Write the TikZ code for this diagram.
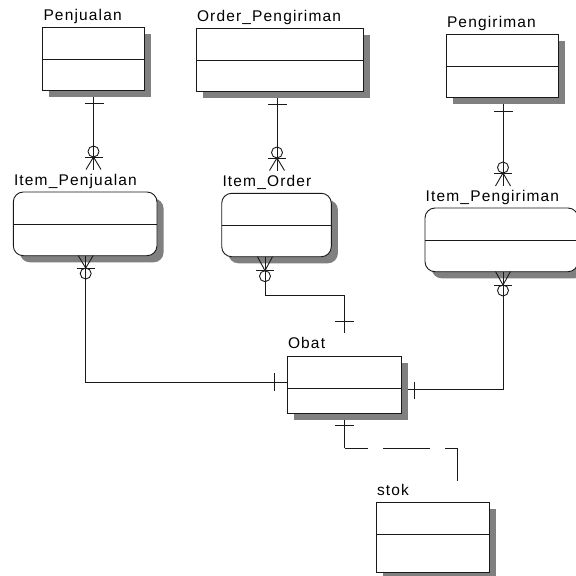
\documentclass[tikz,border=0pt]{standalone}
\usepackage{fontspec}
\setmainfont{Liberation Sans}[LetterSpace=7.5]
\usetikzlibrary{calc}
\tikzset{
  ln/.style={line width=0.9pt,black!90},
  entbox/.style={draw=black!90,line width=0.9pt,fill=white,rectangle,inner sep=0pt,outer sep=0pt},
  shad/.style={fill=black!50,draw=none},
  lbl/.style={anchor=base west,inner sep=0pt,outer sep=0pt,font=\fontsize{15.5}{17}\selectfont,text=black},
  sqr/.style={},
  rnd/.style={rounded corners=10pt}
}
% #1 corner style, #2 name, #3 x1, #4 y1, #5 x2, #6 y2, #7 divider y
\newcommand{\ent}[7][sqr]{%
  \fill[shad,#1] ({#3+6.6},{#4+6.6}) rectangle ({#5+6.6},{#6+6.6});
  \node[entbox,#1,minimum width={#5-#3},minimum height={#6-#4}] (#2) at ({(#3+#5)/2},{(#4+#6)/2}) {};
  \draw[ln] (#2.west |- 0,#7) -- (#2.east |- 0,#7);
}
% child end: x, bar y, sign (+1 foot points down, -1 foot points up), foot length
\newcommand{\crow}[4]{%
  \draw[ln] ({#1-9},#2) -- ({#1+9},#2);
  \draw[ln] ({#1-7.5},{#2+#3*#4}) -- (#1,#2) -- ({#1+7.5},{#2+#3*#4});
  \draw[ln] (#1,#2) -- (#1,{#2+#3*#4});
  \draw[ln] (#1,{#2-#3*5.5}) circle[radius=5.5pt];
}
\begin{document}
\begin{tikzpicture}[x=1pt,y=-1pt]
\useasboundingbox[fill=white] (0,0) rectangle (576,576);

\ent{pen}{42.7}{27}{144}{90.3}{59.3}
\ent{ord}{196.3}{28.3}{363}{91.3}{60.3}
\ent{pgr}{446.3}{34.3}{558.3}{97.3}{66.7}
\ent[rnd]{ipen}{13.3}{192}{157}{255.7}{224.3}
\ent[rnd]{iord}{221.7}{193.3}{331.3}{256.7}{225.7}
\ent[rnd]{ipgr}{425}{208}{578}{271.7}{240.3}
\ent{obat}{287.7}{356}{401}{413}{388}
\ent{stok}{376.7}{502.7}{489.7}{572}{534.7}

\node[lbl] (tpen) at (43.5,20.5) {Penjualan};
\node[lbl] (tord) at (197,21) {Order\_Pengiriman};
\node[lbl] (tpgr) at (447,27) {Pengiriman};
\node[lbl] (tipen) at (14,185) {Item\_Penjualan};
\node[lbl] (tiord) at (222.5,186) {Item\_Order};
\node[lbl] (tipgr) at (425.7,201) {Item\_Pengiriman};
\node[lbl] (tobat) at (288,348.7) {Obat};
\node[lbl] (tstok) at (377,495) {stok};

% free ends and turning points
\coordinate (a1) at (93.5,169.5);
\coordinate (a2) at (277,170.5);
\coordinate (a3) at (503,186);
\coordinate (b1) at (85.7,382);
\coordinate (b2) at (265,295);
\coordinate (b2b) at (344.5,295);
\coordinate (b2c) at (344.5,333);
\coordinate (b3) at (503,389.7);
\coordinate (c1) at (344.5,448);
\coordinate (c2) at (457.7,448);
\coordinate (c3) at (457.7,480.7);

% identifying / non-identifying connectors
\draw[ln,shorten <=6.6pt] (93.5,0 |- pen.south) -- (a1);
\draw[ln,shorten <=6.6pt] (277,0 |- ord.south) -- (a2);
\draw[ln,shorten <=6.6pt] (503,0 |- pgr.south) -- (a3);
\draw[ln] (85.7,0 |- ipen.south) -- (b1) -- (obat.west |- b1);
\draw[ln] (265,0 |- iord.south) -- (b2) -- (b2b) -- (b2c);
\draw[ln,shorten >=6.6pt] (503,0 |- ipgr.south) -- (b3) -- (obat.east |- b3);
\draw[ln,shorten <=6.6pt] (344.5,0 |- obat.south) -- (c1);
\draw[ln,dash pattern=on 23.2pt off 15.6pt on 46.7pt off 15pt on 120pt] (c1) -- (c2) -- (c3);

% one-side ticks
\draw[ln] (84.8,103.5) -- (103.5,103.5);
\draw[ln] (268,104.5) -- (286.5,104.5);
\draw[ln] (494,111) -- (513,111);
\draw[ln] (274.3,373) -- (274.3,391);
\draw[ln] (335,321) -- (353.7,321);
\draw[ln] (414,381.5) -- (414,398.5);
\draw[ln] (335,425) -- (353.7,425);

% many-side crow's feet
\crow{93.5}{157}{1}{12.5}
\crow{277}{158}{1}{12.5}
\crow{503}{173}{1}{13}
\crow{85.7}{268}{-1}{12.5}
\crow{265}{270.7}{-1}{14}
\crow{503}{285}{-1}{13.5}
\end{tikzpicture}
\end{document}
